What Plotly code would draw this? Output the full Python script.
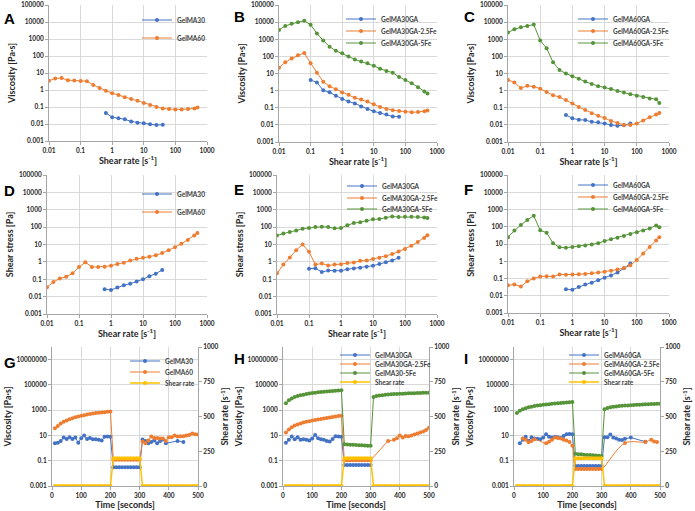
import plotly.graph_objects as go

W, H = 695, 511
FONT = "Lato"
BLUE, ORANGE, GREEN, YELLOW = "#4472C4", "#ED7D31", "#56943A", "#FFC000"
GRID = "#D9D9D9"
AXIS = "#A6A6A6"
TXT = "#262626"

# ---------------- data ----------------
SR = [0.01, 0.0158, 0.0251, 0.0398, 0.0631, 0.1, 0.158, 0.251, 0.398, 0.631, 1, 1.58, 2.51,
      3.98, 6.31, 10, 15.8, 25.1, 39.8, 63.1, 100, 158, 251, 398, 500]
SR_A = [0.631, 1, 1.58, 2.51, 3.98, 6.31, 10, 15.8, 25.1, 39.8]
SR_B = [0.1, 0.158, 0.251, 0.398, 0.631, 1, 1.58, 2.51, 3.98, 6.31, 10, 15.8, 25.1, 39.8, 63.1]
SR_C = [0.631, 1, 1.58, 2.51, 3.98, 6.31, 10, 15.8, 25.1, 39.8, 63.1]

# A: viscosity
visc_A_GelMA30 = [0.045, 0.025, 0.022, 0.019, 0.014, 0.012, 0.011, 0.0098, 0.0087, 0.009]
visc_A_GelMA60 = [3.5, 4.8, 5.0, 3.8, 3.6, 3.4, 3.3, 2.0, 1.3, 0.9, 0.65, 0.5, 0.38, 0.3, 0.23,
                  0.17, 0.13, 0.1, 0.082, 0.075, 0.072, 0.072, 0.075, 0.083, 0.093]
# B: viscosity
visc_B_GA = [4.2, 3.0, 1.05, 0.8, 0.5, 0.32, 0.23, 0.18, 0.12, 0.085, 0.062, 0.05, 0.04, 0.031, 0.03]
visc_B_25Fe = [22, 45, 75, 115, 160, 40, 11, 3.3, 1.8, 1.2, 0.78, 0.58, 0.38, 0.3, 0.23, 0.16,
               0.11, 0.085, 0.072, 0.065, 0.058, 0.055, 0.056, 0.062, 0.068]
visc_B_5Fe = [3500, 6000, 8000, 10000, 12000, 7000, 2200, 850, 370, 210, 150, 100, 66, 50, 40,
              28, 19, 14, 11, 6.3, 4.2, 2.7, 1.6, 0.9, 0.68]
# C: viscosity
visc_C_GA = [0.038, 0.024, 0.02, 0.019, 0.015, 0.014, 0.012, 0.01, 0.009, 0.0095, 0.012]
visc_C_25Fe = [4.2, 3.0, 1.4, 1.9, 1.7, 1.3, 0.84, 0.54, 0.42, 0.28, 0.18, 0.11, 0.075, 0.048,
               0.034, 0.025, 0.017, 0.013, 0.01, 0.01, 0.012, 0.018, 0.028, 0.04, 0.05]
visc_C_5Fe = [2500, 3800, 5000, 6000, 7200, 850, 300, 45, 16, 10, 6.8, 5, 3.4, 2.4, 1.8, 1.5,
              1.25, 0.95, 0.77, 0.62, 0.51, 0.42, 0.35, 0.31, 0.19]
# D: shear stress
stress_D_GelMA30 = [0.027, 0.024, 0.033, 0.045, 0.055, 0.073, 0.1, 0.15, 0.21, 0.34]
stress_D_GelMA60 = [0.035, 0.07, 0.11, 0.14, 0.22, 0.51, 0.95, 0.51, 0.51, 0.53, 0.6, 0.75, 0.9,
                    1.2, 1.5, 1.7, 2.0, 2.4, 3.2, 4.6, 7, 11, 18, 33, 46]
# E: shear stress
stress_E_GA = [0.4, 0.43, 0.26, 0.32, 0.31, 0.31, 0.38, 0.42, 0.46, 0.52, 0.6, 0.75, 0.95, 1.2, 1.7]
stress_E_25Fe = [0.22, 0.7, 1.8, 4.7, 10, 3.8, 0.7, 0.8, 0.62, 0.7, 0.74, 0.85, 0.92, 1.15, 1.2,
                 1.45, 1.75, 2.1, 2.8, 3.9, 5.5, 8.5, 14, 24, 34]
stress_E_5Fe = [33, 43, 53, 64, 80, 90, 100, 105, 100, 85, 88, 130, 170, 190, 230, 280, 290, 350,
                410, 380, 390, 390, 380, 360, 330]
# F: shear stress
stress_F_GA = [0.024, 0.022, 0.032, 0.045, 0.057, 0.08, 0.11, 0.15, 0.22, 0.39, 0.75]
stress_F_25Fe = [0.04, 0.045, 0.034, 0.07, 0.1, 0.13, 0.135, 0.13, 0.17, 0.165, 0.17, 0.175, 0.18,
                 0.2, 0.22, 0.25, 0.28, 0.33, 0.4, 0.58, 1.2, 2.8, 6.6, 16, 25]
stress_F_5Fe = [25, 60, 125, 250, 430, 62, 45, 11, 6.5, 6, 6.8, 7.5, 8.3, 9.2, 11, 15, 19, 23, 29,
                38, 48, 60, 80, 120, 95]

# time sweeps (G, H, I)
TIME = [10, 20, 30, 40, 50, 60, 70, 80, 90, 100, 110, 120, 130, 140, 150, 160, 170, 180, 190, 200,
        210, 220, 230, 240, 250, 260, 270, 280, 290, 300, 310, 320, 330, 340, 350, 360, 370, 380,
        390, 400, 410, 420, 430, 440, 450, 460, 470, 480, 490, 500]
SHEAR_RATE = [0, 0, 0, 0, 0, 0, 0, 0, 0, 0, 0, 0, 0, 0, 0, 0, 0, 0, 0, 0,
              200, 200, 200, 200, 200, 200, 200, 200, 200, 200,
              0, 0, 0, 0, 0, 0, 0, 0, 0, 0, 0, 0, 0, 0, 0, 0, 0, 0, 0, 0]
N = None
G_GelMA30 = [2.4, 2.7, 3.7, 6.8, 5.3, 7.3, 5.3, 6.8, 2.7, 6.0, 9.8, 5.3, 6.4, 5.0, 5.0, 4.5, 4.0, 7.8, 8.2, 7.8,
             0.03, 0.03, 0.03, 0.03, 0.03, 0.03, 0.03, 0.03, 0.03, 0.03,
             4.8, 3.7, 2.4, 3.1, 4.0, 2.4, 3.7, 4.8, 2.4, N, N, N, 3.7, N, 3.1, N, N, N, N, N]
G_GelMA60 = [38, 57, 88, 120, 150, 190, 230, 280, 310, 360, 400, 450, 490, 550, 590, 630, 670, 700, 750, 800,
             0.12, 0.12, 0.12, 0.12, 0.12, 0.12, 0.12, 0.12, 0.12, 0.12,
             3.3, 2.4, 3.9, 8.2, 6.4, 6.4, 5.7, 5.7, 3.7, 7.3, 7.3, 9.8, 8.2, 8.7, 8.7, 9.8, 11, 14, 12.5, 11.8]
H_GA = [2.7, 4.5, 8.2, 5.0, 7.3, 4.5, 5.0, 4.5, 4.0, 5.7, 11, 6.0, 5.0, 4.5, 3.7, 3.3, 5.3, 8.7, 8.2, 7.8,
        0.045, 0.045, 0.045, 0.045, 0.045, 0.045, 0.045, 0.045, 0.045, 0.045,
        N, N, N, N, N, N, N, N, N, N, N, N, N, N, N, N, N, N, N, N]
H_25Fe = [17, 30, 45, 60, 75, 90, 105, 120, 135, 150, 165, 180, 200, 220, 240, 260, 285, 310, 340, 370,
          0.11, 0.11, 0.11, 0.11, 0.11, 0.11, 0.11, 0.11, 0.11, 0.11,
          N, N, N, N, N, 3.7, N, 4.5, 6, 10, 7, 9, 8.5, 10, 12, 14, 17, 21, 27, 40]
H_5Fe = [3500, 6000, 8500, 11000, 13000, 15000, 17000, 19000, 21000, 23000, 24500, 26000, 27500, 29000,
         30500, 32000, 33500, 35000, 36500, 38000,
         2.0, 1.9, 1.85, 1.8, 1.75, 1.7, 1.65, 1.6, 1.55, 1.5,
         11000, 13000, 14500, 15500, 16500, 17200, 18000, 18700, 19300, 19900, 20400, 20900, 21400,
         21900, 22300, 22700, 23100, 23500, 23900, 24300]
I_GA = [N, 2.4, 4.5, 8, 3.7, 7.3, 5.7, 5.5, 5, 7, 12.5, 8, 7, 8, 7.3, 6.4, 9, 12.5, 13, 12.5,
        0.038, 0.038, 0.038, 0.038, 0.038, 0.038, 0.038, 0.038, 0.038, 0.038,
        7.3, 7.3, 12, 7, 5.7, 4.5, 4.3, 5.5, N, 6.8, N, N, N, N, 3.2, N, N, N, N, N]
I_25Fe = [N, N, 5.7, 4.5, 2.9, 3.7, 5, N, N, N, 2.4, 3.2, 4.5, 7, 6.4, 5.7, 4.5, 4, 3, 1.5,
          0.022, 0.022, 0.022, 0.022, 0.022, 0.022, 0.022, 0.022, 0.022, 0.022,
          N, N, N, N, N, N, N, 2.5, N, N, N, N, N, N, 3.0, N, 4.5, 3.3, 3.0, N]
I_5Fe = [600, 900, 1200, 1450, 1700, 1900, 2100, 2300, 2500, 2700, 2850, 3000, 3200, 3350, 3500, 3700,
         3850, 4000, 4200, 4400,
         0.35, 0.33, 0.32, 0.3, 0.29, 0.28, 0.27, 0.26, 0.25, 0.24,
         1200, 1500, 1700, 1850, 2000, 2100, 2200, 2300, 2400, 2500, 2600, 2700, 2750, 2850, 2900,
         3000, 3050, 3150, 3200, 3300]

# tick labels
LOGX_VALS = [0.01, 0.1, 1, 10, 100, 1000]
LOGX_TEXT = ["0.01", "0.1", "1", "10", "100", "1000"]
LOGY_VALS = [0.001, 0.01, 0.1, 1, 10, 100, 1000, 10000, 100000]
LOGY_TEXT = ["0.001", "0.01", "0.1", "1", "10", "100", "1000", "10000", "100000"]
TY_VALS = [0.001, 0.1, 10, 1000, 100000, 10000000]
TY_TEXT = ["0.001", "0.1", "10", "1000", "100000", "10000000"]
RY_VALS = [0, 250, 500, 750, 1000]
RY_TEXT = ["0", "250", "500", "750", "1000"]
TX_VALS = [0, 100, 200, 300, 400, 500]
TX_TEXT = ["0", "100", "200", "300", "400", "500"]

# ---------------- layout helpers ----------------
def xd(a, b):
    return [a / W, b / W]

def yd(top, bottom):
    return [1 - bottom / H, 1 - top / H]

tickfont = dict(family=FONT, size=6.5, color=TXT, weight="bold")
titlefont = dict(family=FONT, size=9, color=TXT, weight="bold")
legfont = dict(family=FONT, size=6.5, color="#404040", weight="bold")

# panel pixel boxes: (x0, x1, ytop, ybottom)
boxes = {
    1: (49, 207, 5, 141), 2: (279, 437, 5, 142), 3: (508, 669, 5, 142),
    4: (47, 207, 175, 314), 5: (277, 437, 175, 314), 6: (508, 669, 175, 313),
    7: (52, 198, 347, 486), 8: (283, 429, 347, 486), 9: (514, 660, 347, 486),
}

layout = dict(width=W, height=H, margin=dict(l=0, r=0, t=0, b=0),
              paper_bgcolor="white", plot_bgcolor="white", showlegend=True)

for i, (x0, x1, yt, yb) in boxes.items():
    common = dict(showgrid=True, gridcolor=GRID, gridwidth=1, zeroline=False, showline=True,
                  linecolor=AXIS, linewidth=1, ticks="outside", ticklen=3, tickcolor=AXIS,
                  tickfont=tickfont, automargin=False)
    if i <= 6:
        xa = dict(common, type="log", range=[-2, 3], tickvals=LOGX_VALS, ticktext=LOGX_TEXT,
                  title=dict(text="Shear rate [s<sup>-1</sup>]", font=titlefont, standoff=1))
        ytitle = "Viscosity [Pa·s]" if i <= 3 else "Shear stress [Pa]"
        ya = dict(common, type="log", range=[-3, 5], tickvals=LOGY_VALS, ticktext=LOGY_TEXT,
                  title=dict(text=ytitle, font=titlefont, standoff=3))
    else:
        xa = dict(common, type="linear", range=[0, 500], tickvals=TX_VALS, ticktext=TX_TEXT,
                  title=dict(text="Time [seconds]", font=titlefont, standoff=1))
        ya = dict(common, type="log", range=[-3, 8], tickvals=TY_VALS, ticktext=TY_TEXT,
                  title=dict(text="Viscosity [Pa·s]", font=titlefont, standoff=3))
        layout[f"yaxis{i + 3}"] = dict(common, showgrid=False, type="linear", range=[0, 1000],
                                       tickvals=RY_VALS, ticktext=RY_TEXT, side="right",
                                       overlaying=f"y{i}", anchor=f"x{i}",
                                       title=dict(text="Shear rate [s<sup>-1</sup>]", font=titlefont, standoff=4))
    xa.update(domain=xd(x0, x1), anchor=f"y{i}")
    ya.update(domain=yd(yt, yb), anchor=f"x{i}")
    layout[f"xaxis{i}"] = xa
    layout[f"yaxis{i}"] = ya

fig = go.Figure()
legend_count = [0]

def add(panel, x, y, name, color, leg_px, yaxis=None, spline=False, lw=1):
    legend_count[0] += 1
    k = legend_count[0]
    lname = "legend" if k == 1 else f"legend{k}"
    fig.add_trace(go.Scatter(
        x=x, y=y, name=name, mode="lines+markers", connectgaps=True,
        line=dict(color=color, width=lw, shape="spline" if spline else "linear"),
        marker=dict(color=color, size=4, symbol="circle"),
        xaxis=f"x{panel}", yaxis=yaxis or f"y{panel}", legend=lname))
    lx, ly = leg_px
    layout[lname] = dict(x=(lx - 40) / W, y=1 - ly / H, xanchor="left", yanchor="middle",
                         bgcolor="rgba(0,0,0,0)", font=legfont, itemwidth=30,
                         borderwidth=0, tracegroupgap=0)

# leg_px = (text start x, item center y) in pixels
add(1, SR_A, visc_A_GelMA30, "GelMA30", BLUE, (177, 20))
add(1, SR, visc_A_GelMA60, "GelMA60", ORANGE, (177, 38))
add(2, SR_B, visc_B_GA, "GelMA30GA", BLUE, (381, 19))
add(2, SR, visc_B_25Fe, "GelMA30GA-2.5Fe", ORANGE, (381, 31))
add(2, SR, visc_B_5Fe, "GelMA30GA-5Fe", GREEN, (381, 43))
add(3, SR_C, visc_C_GA, "GelMA60GA", BLUE, (613, 19))
add(3, SR, visc_C_25Fe, "GelMA60GA-2.5Fe", ORANGE, (613, 31))
add(3, SR, visc_C_5Fe, "GelMA60GA-5Fe", GREEN, (613, 43))
add(4, SR_A, stress_D_GelMA30, "GelMA30", BLUE, (177, 194))
add(4, SR, stress_D_GelMA60, "GelMA60", ORANGE, (177, 212))
add(5, SR_B, stress_E_GA, "GelMA30GA", BLUE, (382, 186))
add(5, SR, stress_E_25Fe, "GelMA30GA-2.5Fe", ORANGE, (382, 198))
add(5, SR, stress_E_5Fe, "GelMA30GA-5Fe", GREEN, (382, 209))
add(6, SR_C, stress_F_GA, "GelMA60GA", BLUE, (613, 185))
add(6, SR, stress_F_25Fe, "GelMA60GA-2.5Fe", ORANGE, (613, 197))
add(6, SR, stress_F_5Fe, "GelMA60GA-5Fe", GREEN, (613, 209))
add(7, TIME, G_GelMA30, "GelMA30", BLUE, (165, 361))
add(7, TIME, G_GelMA60, "GelMA60", ORANGE, (165, 372))
add(7, TIME, SHEAR_RATE, "Shear rate", YELLOW, (165, 383), yaxis="y10", lw=1.5)
add(8, TIME, H_GA, "GelMA30GA", BLUE, (375, 355))
add(8, TIME, H_25Fe, "GelMA30GA-2.5Fe", ORANGE, (375, 364))
add(8, TIME, H_5Fe, "GelMA30-5Fe", GREEN, (375, 373))
add(8, TIME, SHEAR_RATE, "Shear rate", YELLOW, (375, 382), yaxis="y11", lw=1.5)
add(9, TIME, I_GA, "GelMA60GA", BLUE, (604, 355))
add(9, TIME, I_25Fe, "GelMA60GA-2.5Fe", ORANGE, (604, 364), spline=True)
add(9, TIME, I_5Fe, "GelMA60GA-5Fe", GREEN, (604, 373))
add(9, TIME, SHEAR_RATE, "Shear rate", YELLOW, (604, 382), yaxis="y12", lw=1.5)

letters = [("A", 2, 8), ("B", 232, 6), ("C", 462, 6), ("D", 2, 180), ("E", 232, 179),
           ("F", 462, 179), ("G", 2, 352), ("H", 232, 348), ("I", 462, 348)]
layout["annotations"] = [dict(text=f"<b>{t}</b>", x=px / W, y=1 - py / H, xref="paper", yref="paper",
                              xanchor="left", yanchor="top", showarrow=False,
                              font=dict(family="Liberation Sans", size=15, color="black"))
                         for t, px, py in letters]

fig.update_layout(layout)
fig.write_html("out.html", config={"displayModeBar": False},
               post_script="document.body.style.margin='0';document.body.style.padding='0';")
